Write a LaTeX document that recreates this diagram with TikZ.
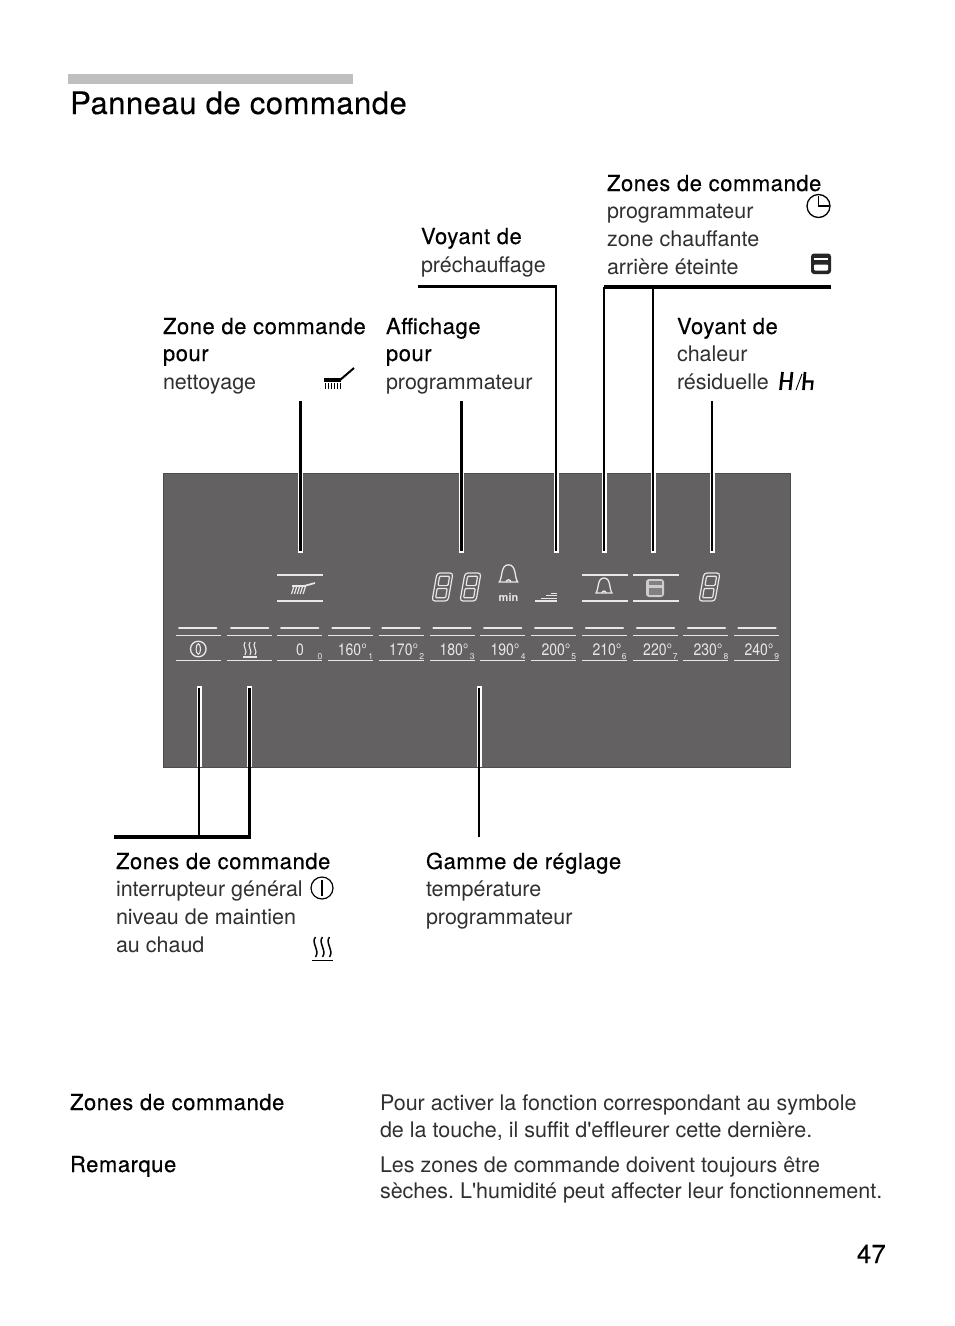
\documentclass[tikz,border=0pt]{standalone}
\usepackage{fontspec}
\setmainfont{TeX Gyre Heros}
\newfontfamily\bodyf{TeX Gyre Heros}
\newfontfamily\headf[FakeBold=0.3,LetterSpace=2.5]{TeX Gyre Heros}
\newfontfamily\titlef[FakeBold=0.3,LetterSpace=1.7]{TeX Gyre Heros}
\newfontfamily\pgf[FakeBold=0.3]{TeX Gyre Heros}
\definecolor{panelc}{HTML}{636161}
\definecolor{ledc}{HTML}{E8E8E8}
\definecolor{txtc}{HTML}{303030}
\tikzset{
  txt/.style={anchor=base west,inner sep=0pt,outer sep=0pt,font=\bodyf\fontsize{21.5}{26}\selectfont,text=txtc},
  head/.style={anchor=base west,inner sep=0pt,outer sep=0pt,font=\headf\fontsize{22}{26}\selectfont,text=black},
  conn/.style={draw=black,line width=2.4pt},
  connb/.style={draw=black,line width=3.2pt},
  halo/.style={draw=white,line width=5pt},
  led/.style={draw=ledc,line width=1.4pt},
  ledb/.style={draw=ledc,line width=2.6pt,line cap=round},
  ptxt/.style={anchor=base,inner sep=0pt,font=\bodyf\fontsize{16.5}{18}\selectfont,text=ledc,xscale=.85},
  psub/.style={anchor=base,inner sep=0pt,font=\bodyf\fontsize{8.5}{10}\selectfont,text=ledc},
}
% outlined italic seven-segment digit
\newcommand{\eightdigit}[2]{%
 \begin{scope}[shift={(#1,#2)},ledc,line width=1.2pt]
  \draw[rounded corners=3pt] (5,0) -- (21,0) -- (18.5,14) -- (16,28) -- (0,28) -- (2.5,14) -- cycle;
  \draw[rounded corners=1pt] (7.6,3.2) -- (17.6,3.2) -- (16,12.6) -- (6,12.6) -- cycle;
  \draw[rounded corners=1pt] (5.2,15.4) -- (15.2,15.4) -- (13.6,24.8) -- (3.6,24.8) -- cycle;
 \end{scope}}
% bell
\newcommand{\bellicon}[3]{%
 \begin{scope}[shift={(#1,#2)},scale=#3,line width=1.3pt,ledc]
  \draw (-8,7) .. controls (-5,3) and (-7,-8) .. (0,-8) .. controls (7,-8) and (5,3) .. (8,7) -- cycle;
  \draw (-2,7) arc[start angle=180,end angle=360,radius=2];
 \end{scope}}
\begin{document}
\begin{tikzpicture}[x=1pt,y=-1pt]
\useasboundingbox (0,0) rectangle (954,1326);
\fill[white] (0,0) rectangle (954,1326);
% title
\fill[black!25] (68,74) rectangle (353,84);
\node[anchor=base west,inner sep=0pt,font=\titlef\fontsize{31}{36}\selectfont] (title) at (70,114) {Panneau de commande};
% panel
\node[draw=black!70,line width=.6pt,fill=panelc,minimum width=627pt,minimum height=294pt,inner sep=0pt,anchor=north west] (panel) at (163,473) {};
% labels top
\node[head] (h1) at (607,191) {Zones de commande};
\node[txt] (h1a) at (607,218) {programmateur};
\node[txt] (h1b) at (607,246) {zone chauffante};
\node[txt] (h1c) at (607,274) {arrière éteinte};
\node[head] (h2) at (421,244) {Voyant de};
\node[txt] (h2a) at (421,272) {préchauffage};
\node[head] (h3) at (163,334) {Zone de commande};
\node[head] (h3a) at (163,361) {pour};
\node[txt] (h3b) at (163,389) {nettoyage};
\node[head] (h4) at (386,334) {Affichage};
\node[head] (h4a) at (386,361) {pour};
\node[txt] (h4b) at (386,389) {programmateur};
\node[head] (h5) at (677,334) {Voyant de};
\node[txt] (h5a) at (677,361) {chaleur};
\node[txt] (h5b) at (677,389) {résiduelle};
% labels bottom
\node[head] (h6) at (116,869) {Zones de commande};
\node[txt] (h6a) at (116,896) {interrupteur général};
\node[txt] (h6b) at (116,924) {niveau de maintien};
\node[txt] (h6c) at (116,952) {au chaud};
\node[head] (h7) at (426,869) {Gamme de réglage};
\node[txt] (h7a) at (426,896) {température};
\node[txt] (h7b) at (426,924) {programmateur};
% bottom text
\node[head] (b1) at (70,1110) {Zones de commande};
\node[txt] (b1a) at (380,1110) {Pour activer la fonction correspondant au symbole};
\node[txt] (b1b) at (380,1137) {de la touche, il suffit d'effleurer cette dernière.};
\node[head] (b2) at (70,1172) {Remarque};
\node[txt] (b2a) at (380,1172) {Les zones de commande doivent toujours être};
\node[txt] (b2b) at (380,1198) {\frenchspacing sèches. L'humidité peut affecter leur fonctionnement.};
\node[anchor=base east,inner sep=0pt,font=\pgf\fontsize{26}{30}\selectfont] (pg) at (886,1263) {47};
% connector coordinates
\coordinate (a1) at (300.5,401); \coordinate (a2) at (300.5,551);
\coordinate (b1t) at (461.5,401); \coordinate (b2b) at (461.5,551);
\coordinate (c0) at (418,286.5); \coordinate (c1) at (556,286.5); \coordinate (c2) at (556,551);
\coordinate (d0) at (831,287); \coordinate (d1) at (604,287); \coordinate (d2) at (604,551);
\coordinate (e1) at (653,287); \coordinate (e2) at (653,551);
\coordinate (f1) at (712,401); \coordinate (f2) at (712,551);
\coordinate (g1) at (199,688); \coordinate (g2) at (199,837);
\coordinate (g3) at (249.5,688); \coordinate (g4) at (249.5,837); \coordinate (g5) at (114,837);
\coordinate (i1) at (479,688); \coordinate (i2) at (479,837);
% halos inside panel
\foreach \x in {300.5,461.5,556,604,653,712}
  \draw[halo] (\x,473) -- (\x,553);
\foreach \x in {199,249.5,479}
  \draw[halo] (\x,686) -- (\x,767);
\draw[conn] (a1) -- (a2);
\draw[connb] (b1t) -- (b2b);
\draw[conn] (c0) -- (c1) -- (c2);
\draw[conn] (d1) -- (d2);
\draw[connb] (d0) -- (d1);
\draw[conn] (e1) -- (e2);
\draw[conn] (f1) -- (f2);
\draw[conn] (g1) -- (g2);
\draw[connb] (g5) -- (g4) -- (g3);
\draw[conn] (i1) -- (i2);
% black icons
\draw[black,line width=1.3pt] (818.5,206) circle (11.5);
\draw[black,line width=1.3pt] (818.5,196) -- (818.5,206) -- (829,206);
\fill[black!85,rounded corners=3pt] (811,253.5) rectangle (831,274);
\fill[white] (814,257.5) rectangle (828,260.3);
\fill[white,rounded corners=1pt] (814,264.5) rectangle (828,270.5);
% brush (black)
\fill[black] (324,378) rectangle (341,382);
\draw[black,line width=2pt] (340,380) -- (354,368);
\foreach \i in {0,...,5} \draw[black,line width=1pt] (325+\i*3,383) -- (325+\i*3,389);
% H/h
\begin{scope}[line width=2.7pt,black]
 \draw (782.5,372) -- (780.5,390); \draw (792,372) -- (790,390); \draw[line width=1.8pt] (781,381) -- (791,381);
 \draw[line width=.9pt] (796,390) -- (802,374);
 \draw (805,372) -- (803.5,390); \draw[line width=2.2pt] (804,381.5) -- (812.5,381.5) -- (811.5,390);
\end{scope}
% power symbol black
\draw[black,line width=1.2pt] (322,888) circle (11);
\draw[black,line width=1.4pt] (322,880) -- (322,896);
% heat symbol black
\foreach \x in {315.5,322.5,329.5}
 \draw[black,line width=1.5pt] (\x,937) .. controls (\x-5,943) and (\x+5,950) .. (\x,957);
\draw[black,line width=1.8pt] (312,960.5) -- (333,960.5);
% panel contents - row bars
\foreach \x in {197.7,249.7,299.7,351,401,452,502.7,553.7,604.5,655.5,706.5,757}
  \draw[ledb] (\x-18.5,628) -- (\x+18.5,628);
\foreach \x in {176,227,277,328,379,430,480,531,582,633,683,734}{
  \draw[led] (\x,635.7) -- (\x+45,635.7);
  \draw[led] (\x,660.7) -- (\x+45,660.7);
}
\foreach \x/\t/\s/\sx in {300/0/0/320,352.4/160°/1/370.7,403.7/170°/2/421.7,454/180°/3/472.3,505/190°/4/523.3,556/200°/5/573.7,607/210°/6/624.3,657.7/220°/7/675.3,708/230°/8/726,759/240°/9/776.7}{
  \node[ptxt] at (\x,655) {\t};
  \node[psub] at (\sx,659.3) {\s};
}
% power symbol panel
\draw[ledc,line width=1.3pt] (198.3,649) circle (7.8);
\draw[ledc,line width=1.1pt] (198.3,649) ellipse (2.2 and 5.2);
% heat symbol panel
\foreach \x in {245,250,255}
 \draw[ledc,line width=1.1pt] (\x,642) .. controls (\x-3.5,646) and (\x+3.5,651) .. (\x,655);
\draw[ledc,line width=1.2pt] (243,657) -- (257,657);
% top row boxes
\foreach \x in {277,582,633}{
  \draw[led] (\x,575) -- (\x+45.5,575);
  \draw[led] (\x,601) -- (\x+45.5,601);
}
% brush panel
\fill[ledc] (292,584.5) rectangle (306,587);
\draw[ledc,line width=1.7pt] (304,586) -- (315,583);
\foreach \i in {0,...,4}\draw[ledc,line width=1.2pt] (294+\i*2.9,586) -- (291.5+\i*2.9,594);
% digits
\eightdigit{432}{573}
\eightdigit{460}{573}
\eightdigit{699}{573}
% bells
\bellicon{508.5}{574}{1.15}
\bellicon{604}{586}{1}
% min
\node[anchor=base,inner sep=0pt,font=\fontsize{11}{12}\bfseries\selectfont,text=ledc] (minl) at (508.5,601.5) {min};
% preheat bars
\draw[ledc,line width=1.5pt] (535,601) -- (557,601);
\draw[ledc,line width=1.1pt] (541,598.3) -- (557,598.3);
\draw[ledc,line width=1pt] (546,595.8) -- (557,595.8);
\draw[ledc,line width=1pt] (551,593.5) -- (557,593.5);
% oven icon panel
\fill[ledc!80!panelc,rounded corners=3pt] (646,579) rectangle (664,597);
\fill[panelc!80!white] (648.5,581.3) rectangle (661.5,585);
\fill[panelc!80!white] (648.5,588) rectangle (661.5,594.7);
\end{tikzpicture}
\end{document}
